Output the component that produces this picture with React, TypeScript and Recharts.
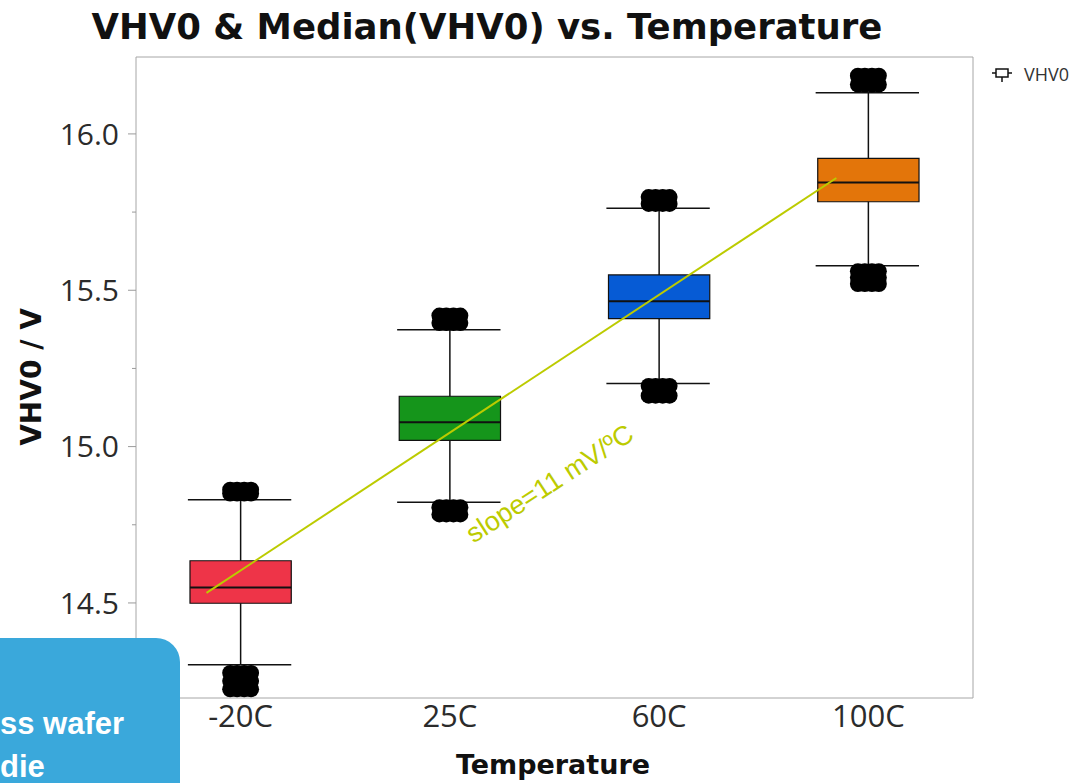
import {
  ComposedChart,
  XAxis,
  YAxis,
  Scatter,
  ReferenceArea,
  ReferenceLine,
} from "recharts";

// VHV0 box plot per temperature
const temperatures = ["-20C", "25C", "60C", "100C"];
const boxColors = ["#EE3448", "#15951B", "#065BD5", "#E3750A"];
const q1 = [14.499, 15.02, 15.409, 15.783];
const medians = [14.549, 15.078, 15.465, 15.845];
const q3 = [14.635, 15.161, 15.549, 15.922];
const whiskerLow = [14.302, 14.822, 15.202, 15.578];
const whiskerHigh = [14.83, 15.374, 15.762, 16.132];

// outlier values for each temperature (index matches temperatures)
const outliersHigh = [
  [14.85, 14.862],
  [15.395, 15.419],
  [15.776, 15.798],
  [16.158, 16.186],
];
const outliersLow = [
  [14.276, 14.25, 14.224],
  [14.806, 14.783],
  [15.194, 15.163],
  [15.561, 15.541, 15.52],
];
// horizontal spread of the outlier markers around each category
const outlierSpread = [-0.05, -0.017, 0.017, 0.05];

// fitted median trend line (slope 11 mV/ºC)
const trendStart = { x: -0.163, y: 14.532 };
const trendEnd = { x: 2.847, y: 15.859 };

const yTicks = [14.5, 14.75, 15, 15.25, 15.5, 15.75, 16];
const yDomain = [14.196, 16.246];

const BOX_HALF = 0.242;
const TREND_COLOR = "#BCCB00";
const FONT = "'Open Sans', 'DejaVu Sans', sans-serif";
const BOLD_FONT = "'DejaVu Sans', 'Open Sans', sans-serif";

const outlierPoints = temperatures.flatMap((_, i) =>
  [...outliersHigh[i], ...outliersLow[i]].flatMap((v) =>
    outlierSpread.map((dx) => ({ x: i + dx, y: v }))
  )
);

function YTick(props: any) {
  const { x, y, payload } = props;
  const v = payload.value as number;
  const major = Math.abs(v * 2 - Math.round(v * 2)) < 1e-6;
  const axisX = x + 17;
  return (
    <g>
      <line
        x1={axisX - (major ? 8 : 4)}
        x2={axisX}
        y1={y}
        y2={y}
        stroke="#9a9a9a"
        strokeWidth={1}
      />
      {major && (
        <text
          x={x}
          y={y}
          dy="0.36em"
          textAnchor="end"
          fill="#2b2b2b"
          fontSize={30}
          fontFamily={FONT}
        >
          {v.toFixed(1)}
        </text>
      )}
    </g>
  );
}

function XTick(props: any) {
  const { x, y, payload } = props;
  return (
    <text
      x={x}
      y={y}
      dy="0.71em"
      textAnchor="middle"
      fill="#2b2b2b"
      fontSize={31}
      fontFamily={FONT}
    >
      {temperatures[payload.value]}
    </text>
  );
}

export default function App() {
  return (
    <div
      style={{
        position: "absolute",
        left: 0,
        top: 0,
        width: 1086,
        height: 783,
        background: "#fff",
        overflow: "hidden",
        fontFamily: FONT,
      }}
    >
      <ComposedChart
        width={1086}
        height={783}
        margin={{ top: 57, right: 113, bottom: 45, left: 56 }}
      >
        <XAxis
          type="number"
          dataKey="x"
          domain={[-0.5, 3.5]}
          ticks={[0, 1, 2, 3]}
          allowDataOverflow
          axisLine={false}
          tickLine={false}
          tickSize={0}
          tickMargin={7}
          height={40}
          tick={<XTick />}
        />
        <YAxis
          type="number"
          dataKey="y"
          domain={yDomain}
          ticks={yTicks}
          allowDataOverflow
          axisLine={false}
          tickLine={false}
          tickSize={8}
          tickMargin={9}
          width={80}
          tick={<YTick />}
        />

        {/* plot frame */}
        <ReferenceArea
          x1={-0.5}
          x2={3.5}
          y1={yDomain[0]}
          y2={yDomain[1]}
          fill="none"
          stroke="#a6a6a6"
          strokeWidth={1}
        />

        {temperatures.map((t, i) => (
          <ReferenceLine
            key={`wu-${t}`}
            segment={[
              { x: i, y: q3[i] },
              { x: i, y: whiskerHigh[i] },
            ]}
            stroke="#111"
            strokeWidth={1.5}
          />
        ))}
        {temperatures.map((t, i) => (
          <ReferenceLine
            key={`wl-${t}`}
            segment={[
              { x: i, y: whiskerLow[i] },
              { x: i, y: q1[i] },
            ]}
            stroke="#111"
            strokeWidth={1.5}
          />
        ))}
        {temperatures.map((t, i) => (
          <ReferenceLine
            key={`cu-${t}`}
            segment={[
              { x: i - BOX_HALF - 0.01, y: whiskerHigh[i] },
              { x: i + BOX_HALF, y: whiskerHigh[i] },
            ]}
            stroke="#111"
            strokeWidth={1.5}
          />
        ))}
        {temperatures.map((t, i) => (
          <ReferenceLine
            key={`cl-${t}`}
            segment={[
              { x: i - BOX_HALF - 0.01, y: whiskerLow[i] },
              { x: i + BOX_HALF, y: whiskerLow[i] },
            ]}
            stroke="#111"
            strokeWidth={1.5}
          />
        ))}

        {temperatures.map((t, i) => (
          <ReferenceArea
            key={`box-${t}`}
            x1={i - BOX_HALF}
            x2={i + BOX_HALF}
            y1={q1[i]}
            y2={q3[i]}
            fill={boxColors[i]}
            fillOpacity={1}
            stroke="#111"
            strokeWidth={1.2}
          />
        ))}
        {temperatures.map((t, i) => (
          <ReferenceLine
            key={`med-${t}`}
            segment={[
              { x: i - BOX_HALF, y: medians[i] },
              { x: i + BOX_HALF, y: medians[i] },
            ]}
            stroke="#111"
            strokeWidth={2}
          />
        ))}

        <Scatter
          data={outlierPoints}
          dataKey="y"
          isAnimationActive={false}
          shape={(p: any) => <circle cx={p.cx} cy={p.cy} r={8} fill="#000" />}
        />

        <ReferenceLine
          segment={[trendStart, trendEnd]}
          stroke={TREND_COLOR}
          strokeWidth={2}
        />
      </ComposedChart>

      {/* title */}
      <div
        style={{
          position: "absolute",
          left: 0,
          top: 4,
          width: 974,
          textAlign: "center",
          fontFamily: BOLD_FONT,
          fontSize: 35.5,
          fontWeight: 700,
          color: "#111",
          whiteSpace: "nowrap",
          lineHeight: "46px",
        }}
      >
        VHV0 &amp; Median(VHV0) vs. Temperature
      </div>

      {/* y axis title */}
      <div
        style={{
          position: "absolute",
          left: 31,
          top: 377,
          transform: "translate(-50%, -50%) rotate(-90deg)",
          fontFamily: BOLD_FONT,
          fontSize: 28,
          fontWeight: 700,
          color: "#111",
          whiteSpace: "nowrap",
        }}
      >
        VHV0 / V
      </div>

      {/* x axis title */}
      <div
        style={{
          position: "absolute",
          left: 553,
          top: 765,
          transform: "translate(-50%, -50%)",
          fontFamily: BOLD_FONT,
          fontSize: 27,
          fontWeight: 700,
          color: "#111",
          whiteSpace: "nowrap",
          lineHeight: "32px",
        }}
      >
        Temperature
      </div>

      {/* slope annotation */}
      <div
        style={{
          position: "absolute",
          left: 550,
          top: 484,
          transform: "translate(-50%, -50%) rotate(-33deg)",
          fontSize: 27,
          fontFamily: "'Liberation Sans', Arial, sans-serif",
          color: TREND_COLOR,
          whiteSpace: "nowrap",
        }}
      >
        slope=11 mV/ºC
      </div>

      {/* legend */}
      <div
        style={{
          position: "absolute",
          left: 991,
          top: 62,
          display: "flex",
          alignItems: "center",
          gap: 11,
          fontSize: 18,
          color: "#333",
        }}
      >
        <svg width={22} height={18}>
          <line x1={1} x2={21} y1={8} y2={8} stroke="#111" strokeWidth={1.5} />
          <rect x={5} y={4} width={12} height={8} fill="#fff" stroke="#111" strokeWidth={1.5} />
          <line x1={11} x2={11} y1={12} y2={17} stroke="#111" strokeWidth={1.5} />
        </svg>
        <span>VHV0</span>
      </div>

      {/* callout overlay */}
      <div
        style={{
          position: "absolute",
          left: -40,
          top: 638,
          width: 220,
          height: 200,
          background: "#3AA8DB",
          borderRadius: 24,
          overflow: "hidden",
          color: "#fff",
          fontFamily: "'Liberation Sans', Arial, sans-serif",
          fontWeight: 700,
          fontSize: 31,
          lineHeight: "31px",
        }}
      >
        <div style={{ position: "absolute", left: 40, top: 70, whiteSpace: "nowrap" }}>
          ss wafer
        </div>
        <div style={{ position: "absolute", left: 40, top: 113, whiteSpace: "nowrap" }}>
          die
        </div>
      </div>
    </div>
  );
}
